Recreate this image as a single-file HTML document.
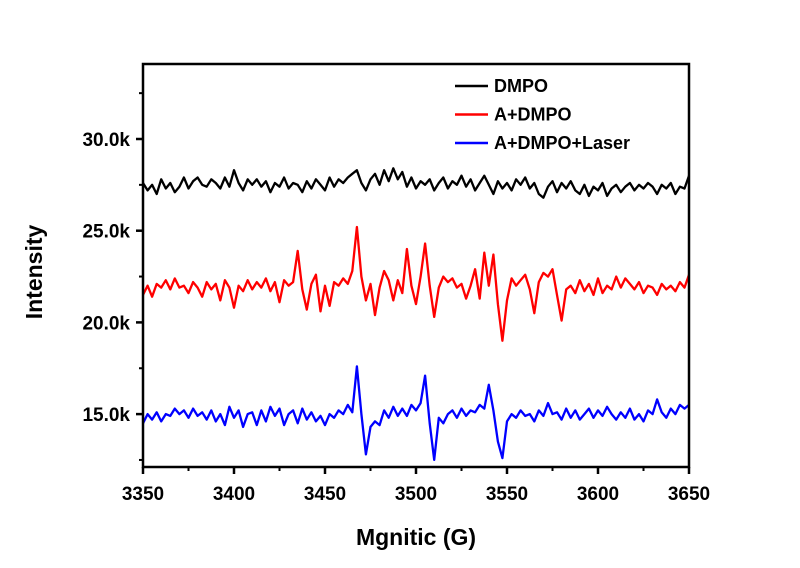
<!DOCTYPE html>
<html><head><meta charset="utf-8"><style>
html,body{margin:0;padding:0;background:#fff;}
svg text{font-family:"Liberation Sans",Arial,sans-serif;font-weight:bold;}
</style></head><body>
<svg id="chart" width="800" height="563" viewBox="0 0 800 563" xmlns="http://www.w3.org/2000/svg">
<g id="plot"></g>
<g id="axes"></g>
<g id="legend"></g>
<text x="0" y="0" font-size="23" text-anchor="middle" transform="translate(42,272) rotate(-90)">Intensity</text>
<text x="416" y="545" font-size="23" text-anchor="middle">Mgnitic (G)</text>
</svg>
<script>
const xStart = 3350, xStep = 2.5;
const xTicks = [3350,3400,3450,3500,3550,3600,3650];
const xTickLabels = ["3350","3400","3450","3500","3550","3600","3650"];
const yTicks = [15,20,25,30];
const yTickLabels = ["15.0k","20.0k","25.0k","30.0k"];
const seriesNames = ["DMPO","A+DMPO","A+DMPO+Laser"];
const dmpo = [27.6,27.2,27.5,27.0,27.8,27.3,27.6,27.1,27.4,27.9,27.3,27.7,27.9,27.5,27.4,27.8,27.6,27.3,27.9,27.4,28.3,27.6,27.2,27.8,27.5,27.8,27.4,27.7,27.1,27.6,27.4,27.9,27.3,27.6,27.5,27.1,27.7,27.3,27.8,27.5,27.2,27.9,27.4,27.8,27.6,27.9,28.1,28.3,27.6,27.2,27.8,28.1,27.5,28.3,27.7,28.4,27.8,28.2,27.4,27.9,27.3,27.7,27.5,27.8,27.2,27.6,27.9,27.3,27.7,27.5,28.0,27.4,27.8,27.2,27.6,28.0,27.5,27.0,27.7,27.3,27.6,27.2,27.8,27.5,27.9,27.3,27.6,27.0,26.8,27.4,27.7,27.1,27.6,27.3,27.7,27.2,27.0,27.5,26.9,27.4,27.2,27.6,26.9,27.3,27.5,27.1,27.4,27.6,27.2,27.5,27.3,27.6,27.4,27.0,27.5,27.3,27.6,27.0,27.4,27.3,28.0];
const aDmpo = [21.5,22.0,21.4,22.1,21.9,22.3,21.8,22.4,21.9,22.0,21.6,22.2,21.9,21.4,22.2,21.8,22.1,21.2,22.3,21.9,20.8,22.0,21.7,22.3,21.8,22.2,21.9,22.4,21.7,22.2,21.1,22.3,22.0,22.2,23.9,21.8,20.7,22.1,22.6,20.6,22.0,20.9,22.2,22.0,22.4,22.1,22.8,25.2,22.5,21.2,22.1,20.4,21.9,22.8,22.3,21.2,22.3,21.6,24.0,22.0,21.0,22.5,24.3,22.0,20.3,21.9,22.5,22.2,22.4,21.9,22.1,21.3,22.0,22.9,21.3,23.8,22.0,23.7,21.0,19.0,21.2,22.4,22.0,22.3,22.6,21.8,20.5,22.2,22.7,22.5,22.9,21.5,20.1,21.8,22.0,21.6,22.3,21.7,22.1,21.5,22.4,21.6,22.0,21.8,22.5,21.9,22.4,22.1,21.8,22.2,21.6,22.0,21.9,21.5,22.1,21.8,22.0,21.7,22.2,21.9,22.6];
const aDmpoLaser = [14.5,15.0,14.7,15.1,14.6,15.0,14.9,15.3,15.0,15.2,14.8,15.3,14.9,15.1,14.7,15.2,14.6,15.0,14.4,15.4,14.8,15.2,14.3,15.0,15.1,14.4,15.2,14.6,15.4,14.9,15.3,14.4,15.0,15.2,14.5,15.3,14.7,15.1,14.6,14.9,14.4,15.0,14.8,15.2,15.0,15.5,15.1,17.6,15.0,12.8,14.3,14.6,14.4,15.2,14.8,15.4,14.9,15.3,14.9,15.5,15.2,15.6,17.1,14.5,12.5,14.8,14.5,15.0,15.2,14.8,15.3,14.9,15.2,15.1,15.5,15.3,16.6,15.2,13.5,12.6,14.6,15.0,14.8,15.2,14.9,15.0,14.6,15.2,14.9,15.6,15.0,15.1,14.7,15.3,14.8,15.2,14.7,15.0,15.3,14.8,15.2,14.9,15.4,15.0,14.7,15.1,14.8,15.3,14.7,15.0,14.6,15.2,15.0,15.8,15.1,14.8,15.3,15.0,15.5,15.3,15.5];

const L=143,R=689,T=64,B=467;
const X0=3350,X1=3650;
function xs(v){return L+(v-X0)/(X1-X0)*(R-L);}
function ys(v){return 139+(30-v)/5*91.7;}
const NS="http://www.w3.org/2000/svg";
function mk(tag,attrs,parent){const e=document.createElementNS(NS,tag);for(const k in attrs)e.setAttribute(k,attrs[k]);parent.appendChild(e);return e;}
const plot=document.getElementById('plot'),axes=document.getElementById('axes'),legend=document.getElementById('legend');
const colors=["#000000","#ff0000","#0000ff"];
const data=[dmpo,aDmpo,aDmpoLaser];
const keys=["dmpo","a-dmpo","a-dmpo-laser"];
data.forEach((arr,si)=>{
  const d=arr.map((v,i)=>(i?"L":"M")+xs(xStart+i*xStep).toFixed(1)+","+ys(v).toFixed(1)).join("");
  const p=mk('path',{d:d,fill:'none',stroke:colors[si],'stroke-width':2.3,'stroke-linejoin':'round'},plot);
  
  
});
const frame=mk('rect',{x:L,y:T,width:R-L,height:B-T,fill:'none',stroke:'#000','stroke-width':2.5},axes);


xTicks.forEach((t,i)=>{
  const x=xs(t);
  const tk=mk('line',{x1:x,y1:B,x2:x,y2:B+7,stroke:'#000','stroke-width':2.5},axes);
  
  
  if(i<xTicks.length-1){const xm=xs(t+25);const m=mk('line',{x1:xm,y1:B,x2:xm,y2:B+4,stroke:'#000','stroke-width':2},axes);
  
  }
  const tx=mk('text',{x:x,y:500,'font-size':19,'text-anchor':'middle'},axes);
  tx.textContent=xTickLabels[i];
  
  
});
yTicks.forEach((t,i)=>{
  const y=ys(t);
  const tk=mk('line',{x1:L-7,y1:y,x2:L,y2:y,stroke:'#000','stroke-width':2.5},axes);
  
  
  const tx=mk('text',{x:L-13,y:y+7,'font-size':19,'text-anchor':'end'},axes);
  tx.textContent=yTickLabels[i];
  
  
});
[12.5,17.5,22.5,27.5,32.5].forEach(v=>{const y=ys(v);const m=mk('line',{x1:L-4,y1:y,x2:L,y2:y,stroke:'#000','stroke-width':2},axes);
  
  });
seriesNames.forEach((n,i)=>{
  const y=86+i*28.5;
  const g=mk('g',{},legend);
  
  
  mk('line',{x1:455,y1:y,x2:488,y2:y,stroke:colors[i],'stroke-width':2.5},g);
  const t=mk('text',{x:494,y:y+6,'font-size':18},g);
  t.textContent=n;
});
</script>
</body></html>
